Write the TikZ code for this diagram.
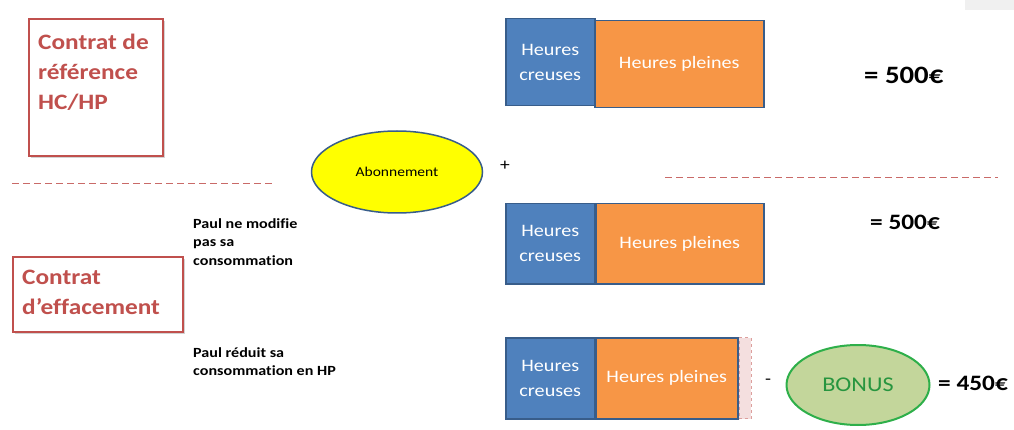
\documentclass[tikz,border=0pt]{standalone}
\usepackage{fontspec}
\setmainfont{Carlito}[FakeStretch=1.15, Ligatures={NoCommon}]
\usetikzlibrary{arrows.meta, positioning, shapes.geometric, shadows}
\definecolor{ctred}{HTML}{C0504D}
\definecolor{ctblue}{HTML}{4F81BD}
\definecolor{ctnavy}{HTML}{385D8A}
\definecolor{ctorange}{HTML}{F79646}
\definecolor{ctyellow}{HTML}{FFFF00}
\definecolor{ctgreen}{HTML}{2EAF4A}
\definecolor{ctlime}{HTML}{C3D69B}

\begin{document}
\begin{tikzpicture}[
  x=1pt, y=-1pt,
  every node/.style={inner sep=0pt},
  contrat/.style={rectangle, draw=ctred, line width=2.2pt, fill=white, anchor=north west, drop shadow={opacity=0.35, shadow xshift=2pt, shadow yshift=-2pt}},
  titre/.style={anchor=north west, align=left, text=ctred, font=\bfseries\fontsize{22}{30}\selectfont},
  hc/.style={rectangle, draw=ctnavy, line width=1.5pt, fill=ctblue, anchor=north west, minimum width=89pt, align=center, text=white, font=\fontsize{17.5}{25}\selectfont},
  hp/.style={rectangle, draw=ctnavy, line width=1.5pt, fill=ctorange, anchor=north west, align=center, text=white, font=\fontsize{17.5}{25}\selectfont},
  somme/.style={anchor=west, font=\bfseries\fontsize{22}{24}\selectfont},
  cas/.style={anchor=north west, align=left, font=\bfseries\fontsize{14}{18.5}\selectfont},
  sep/.style={ctred!85, line width=0.8pt, dash pattern=on 7pt off 4pt},
]
\useasboundingbox (0,0) rectangle (1014,430);
\fill[black!6] (965,0) rectangle (1014,10);

% contrats
\node[contrat, minimum width=134pt, minimum height=137pt] (ref) at (28,18) {};
\node[titre] (reft) at (38,34) {Contrat de\\référence\\HC/HP};
\node[contrat, minimum width=170pt, minimum height=75pt] (eff) at (12,256) {};
\node[titre] (efft) at (22,270) {Contrat\\d’effacement};

\coordinate (s1) at (12,183);
\coordinate (s2) at (272,183);
\coordinate (s3) at (665,177);
\coordinate (s4) at (998,177);
\draw[sep] (s1) -- (s2);
\draw[sep] (s3) -- (s4);

% abonnement
\node[ellipse, draw=ctnavy, line width=1.5pt, fill=ctyellow, minimum width=171pt, minimum height=82pt, font=\fontsize{13.5}{15}\selectfont] (abo) at (397,172) {Abonnement};
\node[font=\fontsize{17}{18}\selectfont] (plus) at (505,166) {+};

% reference
\node[hc, minimum height=87pt] (hc1) at (505,18) {Heures\\creuses};
\node[hp, minimum width=169pt, minimum height=87pt] (hp1) at (594,20) {Heures pleines};
\node[somme, font=\bfseries\fontsize{25}{26}\selectfont] (tot1) at (864,75) {= 500€};

% paul ne modifie pas
\node[cas] (cas1) at (193,218) {Paul ne modifie\\pas sa\\consommation};
\node[hc, minimum height=80pt] (hc2) at (505,203) {Heures\\creuses};
\node[hp, minimum width=168pt, minimum height=80pt] (hp2) at (595,203) {Heures pleines};
\node[somme] (tot2) at (870,222) {= 500€};

% paul reduit
\node[cas] (cas2) at (193,347) {Paul réduit sa\\consommation en HP};
\node[hc, minimum height=81pt] (hc3) at (505,337) {Heures\\creuses};
\node[hp, minimum width=142pt, minimum height=81pt] (hp3) at (595,337) {Heures pleines};
\node[rectangle, fill=ctred!18, draw=ctred!55, dashed, line width=1.2pt, anchor=north west, minimum width=12pt, minimum height=81pt] (gain) at (hp3.north east) {};
\node[font=\fontsize{17}{18}\selectfont] (moins) at (768,382) {-};
\node[ellipse, draw=ctgreen, line width=2pt, fill=ctlime, minimum width=143pt, minimum height=80pt, text=ctgreen!85!black, font=\fontsize{21}{22}\selectfont] (bonus) at (858,385) {BONUS};
\node[somme] (tot3) at (938,383) {= 450€};

\end{tikzpicture}
\end{document}
